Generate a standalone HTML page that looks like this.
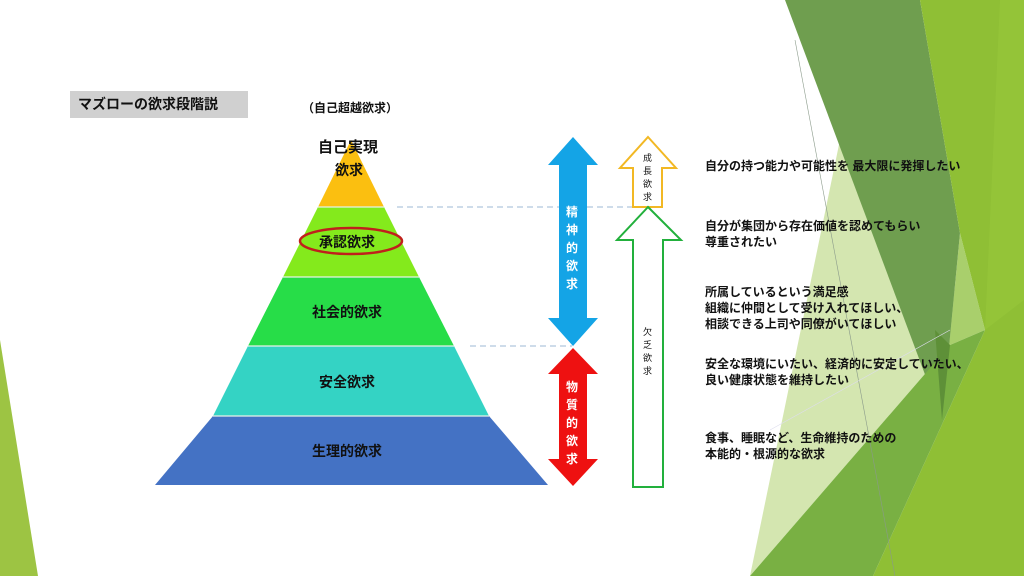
<!DOCTYPE html>
<html><head><meta charset="utf-8"><style>
html,body{margin:0;padding:0;background:#fff}
body{width:1024px;height:576px;position:relative;overflow:hidden;font-family:"Liberation Sans","Noto Sans CJK JP",sans-serif}
.t{position:absolute;font-weight:bold;color:#111;white-space:nowrap}
</style></head><body>
<svg width="1024" height="576" style="position:absolute;left:0;top:0">
<polygon points="0,340 38,576 0,576" fill="#9dc443"/>
<polygon points="842,130 960,300 950,345 750,576" fill="#d4e6b0"/>
<polygon points="960,233 985,330 950,345 942,420" fill="#a9cf6c"/>
<polygon points="785,0 920,0 960,233 942,420" fill="#6f9e4f"/>
<polygon points="920,0 1024,0 1024,576 873,576 985,330 960,233" fill="#8fbf35"/>
<polygon points="1000,0 1024,0 1024,300 985,330" fill="#96c63a" opacity="0.7"/>
<polygon points="750,576 950,345 985,330 873,576" fill="#79b043"/>
<polygon points="935,330 950,345 942,420" fill="#5e9038"/>
<line x1="795" y1="40" x2="895" y2="576" stroke="#8a9a8a" stroke-width="0.6"/>
<line x1="770" y1="430" x2="950" y2="330" stroke="#dde" stroke-width="0.6"/>
<!-- pyramid -->
<polygon points="351,140 384,207 318,207" fill="#fbbf10"/>
<polygon points="318,207 384,207 419,277 283,277" fill="#84ea1c"/>
<polygon points="283,277 419,277 454,346 248,346" fill="#27dd48"/>
<polygon points="248,346 454,346 489,416 213,416" fill="#34d3c4"/>
<polygon points="213,416 489,416 548,485 155,485" fill="#4472c4"/>
<g stroke="#e6f2e6" stroke-width="1.2"><line x1="318" y1="207" x2="384" y2="207"/><line x1="283" y1="277" x2="419" y2="277"/><line x1="248" y1="346" x2="454" y2="346"/><line x1="213" y1="416" x2="489" y2="416"/></g>
<ellipse cx="351" cy="241" rx="51" ry="13" fill="none" stroke="#c0201c" stroke-width="2.5"/>
<g stroke="#9cb8d6" stroke-width="1" stroke-dasharray="6,4"><line x1="397" y1="207" x2="640" y2="207"/><line x1="470" y1="346" x2="572" y2="346"/></g>
<polygon points="573,137 598,165 587,165 587,318 598,318 573,346 548,318 559,318 559,165 548,165" fill="#14a4e6"/>
<polygon points="573,348 598,374 587,374 587,459 598,459 573,486 548,459 559,459 559,374 548,374" fill="#ee1111"/>
<polygon points="648,137 676,168 662,168 662,207 633,207 633,168 620,168" fill="#fff" stroke="#f2b824" stroke-width="2"/>
<polygon points="648,207 681,240 663,240 663,487 633,487 633,240 617,240" fill="#fff" stroke="#22b03c" stroke-width="2"/>
</svg>
<div style="position:absolute;left:70px;top:91px;width:178px;height:27px;background:#d0d0d0"></div>
<div class="t" style="left:78px;top:94px;font-size:14px">マズローの欲求段階説</div>
<div class="t" style="left:302px;top:99px;font-size:12px;font-weight:bold">（自己超越欲求）</div>
<div class="t" style="left:318px;top:136px;font-size:15px">自己実現</div>
<div class="t" style="left:335px;top:160px;font-size:14px">欲求</div>
<div class="t" style="left:319px;top:232px;font-size:14px">承認欲求</div>
<div class="t" style="left:312px;top:302px;font-size:14px">社会的欲求</div>
<div class="t" style="left:319px;top:372px;font-size:14px">安全欲求</div>
<div class="t" style="left:312px;top:441px;font-size:14px">生理的欲求</div>
<div class="t" style="left:566px;top:203px;font-size:12px;color:#fff;line-height:18px;width:14px;white-space:normal">精神的欲求</div>
<div class="t" style="left:566px;top:378px;font-size:12px;color:#fff;line-height:18px;width:14px;white-space:normal">物質的欲求</div>
<div class="t" style="left:643px;top:152px;font-size:9px;line-height:13px;width:10px;white-space:normal;font-weight:normal">成長欲求</div>
<div class="t" style="left:643px;top:326px;font-size:9px;line-height:13px;width:10px;white-space:normal;font-weight:normal">欠乏欲求</div>
<div class="t" style="left:705px;top:157px;font-size:12px">自分の持つ能力や可能性を 最大限に発揮したい</div>
<div class="t" style="left:705px;top:218px;font-size:12px;line-height:16px">自分が集団から存在価値を認めてもらい<br>尊重されたい</div>
<div class="t" style="left:705px;top:284px;font-size:12px;line-height:16px">所属しているという満足感<br>組織に仲間として受け入れてほしい、<br>相談できる上司や同僚がいてほしい</div>
<div class="t" style="left:705px;top:356px;font-size:12px;line-height:16px">安全な環境にいたい、経済的に安定していたい、<br>良い健康状態を維持したい</div>
<div class="t" style="left:705px;top:430px;font-size:12px;line-height:16px">食事、睡眠など、生命維持のための<br>本能的・根源的な欲求</div>
</body></html>
